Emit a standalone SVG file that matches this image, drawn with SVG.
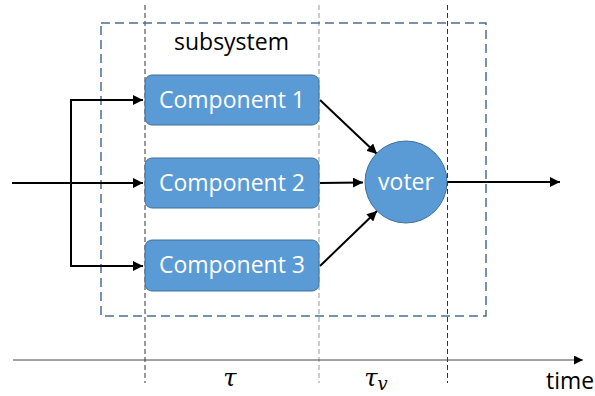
<svg xmlns="http://www.w3.org/2000/svg" width="595" height="396" viewBox="0 0 595 396">
<style>
.box{fill:#5B9BD5;stroke:#41719C;stroke-width:1}
.lbl{font-family:"Open Sans","Liberation Sans",sans-serif;font-size:23px;fill:#ffffff;text-anchor:middle}
.txt{font-family:"Open Sans","Liberation Sans",sans-serif;font-size:23px;fill:#000000}
.math{font-family:"DejaVu Serif","Liberation Serif",serif;font-style:italic;font-size:24px;fill:#000000}
.conn{stroke:#000;stroke-width:2;fill:none}
.vd{stroke:#333;stroke-width:1;stroke-dasharray:5 3;fill:none}
</style>
<defs>
<marker id="ah" viewBox="0 0 10 10" refX="10" refY="5" markerWidth="5" markerHeight="5" orient="auto" markerUnits="strokeWidth">
<path d="M0,0 L10,5 L0,10 z" fill="#000"/>
</marker>
<marker id="ah2" viewBox="0 0 10 10" refX="10" refY="5" markerWidth="9" markerHeight="9" orient="auto" markerUnits="strokeWidth">
<path d="M0,0 L10,5 L0,10 z" fill="#000"/>
</marker>
</defs>
<rect width="595" height="396" fill="#fff"/>
<g id="timeline">
<line x1="145" y1="5" x2="145" y2="383" class="vd"/>
<line x1="319" y1="5" x2="319" y2="383" class="vd" style="stroke:#999"/>
<line x1="447.5" y1="5" x2="447.5" y2="383" class="vd"/>
<line x1="13" y1="360" x2="583" y2="360" stroke="#444" stroke-width="1" marker-end="url(#ah2)"/>
<text x="230" y="386" class="math" text-anchor="middle">τ</text>
<text x="376" y="386" class="math" text-anchor="middle">τ<tspan font-size="18" dy="4">v</tspan></text>
<text x="546" y="389" class="txt" textLength="48" lengthAdjust="spacingAndGlyphs">time</text>
</g>
<g id="subsystem">
<rect x="101" y="23" width="385" height="293" fill="none" stroke="#4A6F96" stroke-width="1.5" stroke-dasharray="9 5"/>
<text x="231.5" y="50" class="txt" text-anchor="middle">subsystem</text>
</g>
<g id="connectors">
<polyline points="12,183 143,183" class="conn" marker-end="url(#ah)"/>
<polyline points="71,266 71,100 143,100" class="conn" marker-end="url(#ah)"/>
<polyline points="71,183 71,266 143,266" class="conn" marker-end="url(#ah)"/>
<line x1="320" y1="100" x2="377" y2="154" class="conn" marker-end="url(#ah)"/>
<line x1="320" y1="183" x2="363" y2="182.5" class="conn" marker-end="url(#ah)"/>
<line x1="320" y1="266" x2="377" y2="211" class="conn" marker-end="url(#ah)"/>
<line x1="447" y1="182" x2="560" y2="182" class="conn" marker-end="url(#ah)"/>
</g>
<g id="component1">
<rect x="145" y="75" width="174" height="50" rx="7" class="box"/>
<text x="232" y="108" class="lbl">Component 1</text>
</g>
<g id="component2">
<rect x="145" y="158" width="174" height="50" rx="7" class="box"/>
<text x="232" y="191" class="lbl">Component 2</text>
</g>
<g id="component3">
<rect x="145" y="240" width="174" height="51" rx="7" class="box"/>
<text x="232" y="273" class="lbl">Component 3</text>
</g>
<g id="voter">
<circle cx="406" cy="182" r="41" class="box"/>
<text x="406" y="190" class="lbl">voter</text>
</g>
</svg>
